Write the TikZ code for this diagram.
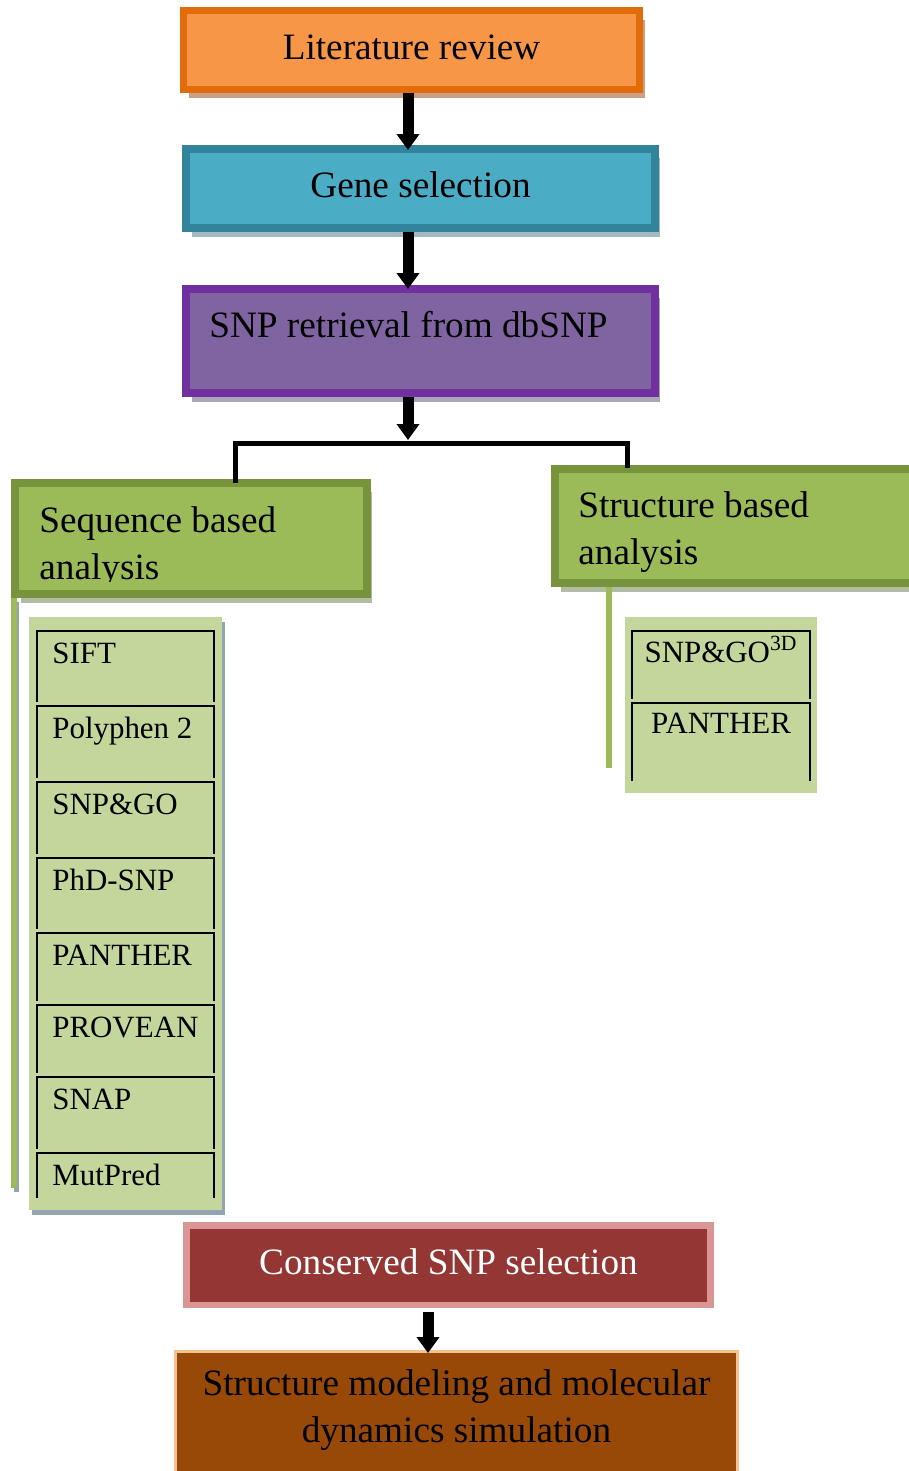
\documentclass[tikz,border=0pt]{standalone}
\usepackage{fontspec}
\setmainfont{Liberation Serif}
\usetikzlibrary{positioning,arrows.meta,shadows}
\usepackage{xcolor}
\definecolor{litfill}{HTML}{F79646}
\definecolor{litline}{HTML}{E36C0A}
\definecolor{litshade}{RGB}{200,160,135}
\definecolor{genefill}{HTML}{4BACC6}
\definecolor{geneline}{HTML}{31849B}
\definecolor{geneshade}{RGB}{165,185,195}
\definecolor{snpfill}{HTML}{8064A2}
\definecolor{snpline}{HTML}{7030A0}
\definecolor{snpshade}{RGB}{170,165,185}
\definecolor{anafill}{HTML}{9BBB59}
\definecolor{analine}{HTML}{77933C}
\definecolor{anashade}{RGB}{178,188,162}
\definecolor{panelfill}{HTML}{C3D69B}
\definecolor{panelshade}{RGB}{149,163,179}
\definecolor{consfill}{HTML}{943634}
\definecolor{consline}{HTML}{D99694}
\definecolor{modfill}{HTML}{984807}
\definecolor{modline}{HTML}{FAC090}
\newcommand{\bigtxt}{\fontsize{21.2pt}{27.2pt}\selectfont}
\newcommand{\tooltxt}{\fontsize{17.6pt}{21pt}\selectfont}
\tikzset{
  flowbox/.style={draw, line width=0.16cm, inner sep=0pt, font=\bigtxt,
    text height=15.9pt, text depth=5.3pt},
  boxshade/.style={drop shadow={shadow xshift=0.11cm, shadow yshift=-0.18cm,
    opacity=1, fill=#1}},
  flowarrow/.style={line width=0.22cm, -{Triangle[width=0.44cm,length=0.32cm]}},
  forkline/.style={line width=0.1cm},
  stemline/.style={draw=anafill, line width=0.12cm},
  cellline/.style={line width=0.05cm},
  tool/.style={font=\tooltxt, inner sep=0pt}
}

\begin{document}
\begin{tikzpicture}[x=0.02cm,y=-0.02cm]
  \clip (0,0) rectangle (909,1471);

  % main flow
  \node[flowbox, draw=litline, fill=litfill, line width=0.14cm,
        minimum width=9.12cm, minimum height=1.58cm, boxshade=litshade]
    (lit) at (411.5,50) {Literature review};
  \node[flowbox, draw=geneline, fill=genefill,
        minimum width=9.38cm, minimum height=1.58cm, boxshade=geneshade]
    (gene) at (420.5,188.5) {Gene selection};
  \node[flowbox, draw=snpline, fill=snpfill,
        minimum width=9.38cm, minimum height=2.08cm, boxshade=snpshade]
    (snp) at (420.5,341) {};
  \node[font=\bigtxt, inner sep=0pt, anchor=base west]
    (snptxt) at (209,337) {SNP retrieval from dbSNP};

  \coordinate (spine) at (408,0);
  \draw[flowarrow, shorten >=-0.1cm] (lit.south -| spine) -- (gene.north -| spine);
  \draw[flowarrow, shorten >=-0.08cm] (gene.south -| spine) -- (snp.north -| spine);

  % the two analyses
  \node[flowbox, draw=analine, fill=anafill,
        minimum width=7.04cm, minimum height=2.22cm, boxshade=anashade]
    (seqbox) at (191,538.5) {};
  \node[flowbox, draw=analine, fill=anafill,
        minimum width=7.5cm, minimum height=2.28cm, boxshade=anashade]
    (strbox) at (742.5,526) {};
  \begin{scope}
    \clip (19,487) rectangle (363,581);
    \node[font=\bigtxt, text width=7cm, align=flush left, inner sep=0pt, anchor=base west]
      (seqtxt) at (39,532) {Sequence based\\analysis};
  \end{scope}
  \node[font=\bigtxt, text width=7cm, align=flush left, inner sep=0pt, anchor=base west]
    (strtxt) at (578,517) {Structure based\\analysis};

  \coordinate (fork) at (408,443);
  \coordinate (forkl) at (235,443);
  \coordinate (forkr) at (627,443);
  \draw[flowarrow, shorten >=0.06cm] (snp.south -| spine) -- (fork);
  \draw[forkline, shorten <=-0.08cm, shorten >=-0.06cm]
    (seqbox.north -| forkl) -- (forkl) -- (forkr) -- (strbox.north -| forkr);

  % stems
  \coordinate (seqfoot) at (14,1188);
  \coordinate (strfoot) at (609,768);
  \draw[stemline, preaction={draw=panelshade, line width=0.12cm,
        transform canvas={shift={(0.05cm,-0.08cm)}}}]
    (seqbox.south west -| seqfoot) -- (seqfoot);
  \draw[stemline] (strbox.south -| strfoot) -- (strfoot);

  % sequence based tools
  \fill[panelshade] (32,622) rectangle (225,1215);
  \fill[panelfill] (29,617) rectangle (222,1210);
  \foreach \ct/\cb/\tname [count=\i] in {631/702/SIFT, 706/778/Polyphen 2,
      782/854/SNP\&GO, 858/929/PhD-SNP, 933/1001/PANTHER, 1005/1073/PROVEAN,
      1077/1149/SNAP, 1153/1198/MutPred}
  {
    \draw[cellline] (37,\cb) |- (214,\ct) -- (214,\cb);
    \node[tool, anchor=base west] (seqtool\i) at (52,\ct+32) {\tname};
  }

  % structure based tools
  \fill[panelfill] (625,617) rectangle (817,793);
  \draw[cellline] (632,699) |- (810,631) -- (810,699);
  \node[tool, anchor=base] (go3d) at (721,662) {SNP\&GO\textsuperscript{3D}};
  \draw[cellline] (632,781) |- (810,703) -- (810,781);
  \node[tool, anchor=base] (strpanther) at (721,733) {PANTHER};

  % selection and modeling
  \node[flowbox, draw=consline, fill=consfill, text=white, line width=0.13cm,
        minimum width=10.49cm, minimum height=1.59cm]
    (cons) at (448.5,1265) {Conserved SNP selection};
  \node[draw=modline, fill=modfill, line width=0.05cm, inner sep=0pt,
        minimum width=11.25cm, minimum height=3cm, anchor=north]
    (mod) at (456.5,1350) {};
  \node[font=\bigtxt, text width=11cm, align=flush center, inner sep=0pt, anchor=base]
    (modtxt) at (456.5,1395) {Structure modeling and molecular\\dynamics simulation};

  \coordinate (spine2) at (428,0);
  \draw[flowarrow, shorten <=0.08cm, shorten >=-0.06cm]
    (cons.south -| spine2) -- (mod.north -| spine2);
\end{tikzpicture}
\end{document}
